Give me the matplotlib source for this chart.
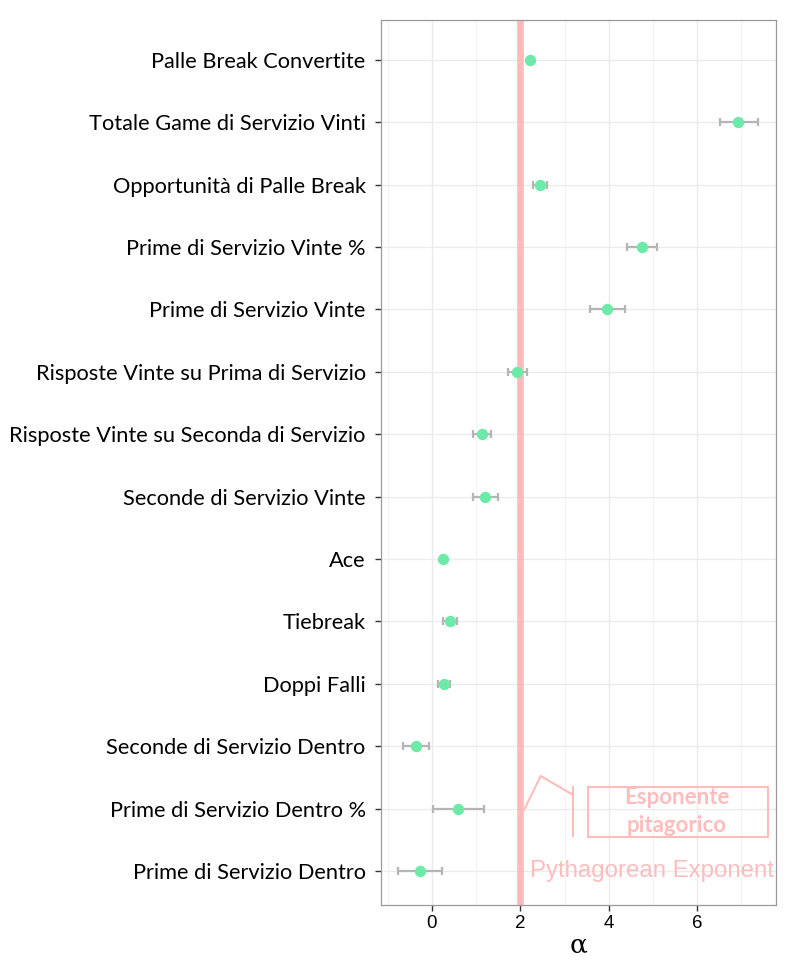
import matplotlib
matplotlib.use("Agg")
import matplotlib.pyplot as plt
from matplotlib.lines import Line2D
from matplotlib.patches import Rectangle

categories = [
    "Palle Break Convertite",
    "Totale Game di Servizio Vinti",
    "Opportunità di Palle Break",
    "Prime di Servizio Vinte %",
    "Prime di Servizio Vinte",
    "Risposte Vinte su Prima di Servizio",
    "Risposte Vinte su Seconda di Servizio",
    "Seconde di Servizio Vinte",
    "Ace",
    "Tiebreak",
    "Doppi Falli",
    "Seconde di Servizio Dentro",
    "Prime di Servizio Dentro %",
    "Prime di Servizio Dentro",
]
alpha_est = [2.21, 6.93, 2.44, 4.76, 3.97, 1.93, 1.14, 1.20, 0.25, 0.41, 0.27, -0.36, 0.60, -0.26]
ci_low = [2.17, 6.52, 2.29, 4.41, 3.57, 1.73, 0.93, 0.92, 0.22, 0.26, 0.14, -0.66, 0.03, -0.76]
ci_high = [2.25, 7.37, 2.60, 5.10, 4.37, 2.14, 1.34, 1.49, 0.28, 0.57, 0.40, -0.06, 1.18, 0.23]
pythagorean_exponent = 2.0
x_ticks = [0, 2, 4, 6]

fig = plt.figure(figsize=(7.9, 9.64), dpi=100)
ax = fig.add_axes([381/790, 1-905/964, 395/790, 885/964])

n = len(categories)
ypos = list(range(n, 0, -1))

ax.set_xlim(-1.15, 7.78)
ax.set_ylim(0.455, n + 0.64)

# grid
ax.set_xticks(x_ticks)
ax.set_xticks([-1, 1, 3, 5, 7], minor=True)
ax.set_yticks(ypos)
ax.set_yticklabels(categories, fontfamily="Lato", fontsize=15.7)
ax.grid(True, which="major", color="#ebebeb", linewidth=1.0)
ax.grid(True, which="minor", axis="x", color="#f3f3f3", linewidth=0.8)
ax.set_axisbelow(True)
for s in ax.spines.values():
    s.set_color("#9a9a9a")
    s.set_linewidth(0.9)
ax.tick_params(axis="both", which="major", length=4, color="#333333", width=1)
ax.tick_params(axis="x", which="minor", length=0)
ax.tick_params(axis="y", pad=7)
for lab in ax.get_xticklabels():
    lab.set_fontfamily("Liberation Sans")
    lab.set_fontsize(13.5)
ax.set_xlabel("α", fontfamily="DejaVu Serif", fontsize=19, labelpad=0)

ax.axvline(pythagorean_exponent, color="#ffb0b0", alpha=0.85, linewidth=4.8, zorder=1)

xerr = [[a - l for a, l in zip(alpha_est, ci_low)], [h - a for a, h in zip(alpha_est, ci_high)]]
ax.errorbar(alpha_est, ypos, xerr=xerr, fmt="none", ecolor="#b5b5b5",
            elinewidth=1.6, capsize=3.2, capthick=1.6, zorder=2)
ax.plot(alpha_est, ypos, "o", color="#6eeaa8", markersize=8.2, markeredgewidth=0, zorder=3)

pink = "#ffbcbc"
ax.text(2.22, ypos[-1], "Pythagorean Exponent", color=pink, fontsize=17.3,
        fontfamily="Liberation Sans", ha="left", va="center", zorder=4)

def fx(px):
    return (px - 381) / 395

def fy(py):
    return (905 - py) / 885

ax.add_line(Line2D([fx(524), fx(540.7), fx(573.3)], [fy(810), fy(776), fy(795)],
                   transform=ax.transAxes, color=pink, linewidth=1.5, zorder=4))
ax.add_line(Line2D([fx(573.3), fx(573.3)], [fy(786.7), fy(836)],
                   transform=ax.transAxes, color=pink, linewidth=1.5, zorder=4))
ax.add_patch(Rectangle((fx(588.3), fy(836.7)), fx(767.7) - fx(588.3), fy(786.7) - fy(836.7),
                       transform=ax.transAxes, fill=False, edgecolor=pink, linewidth=1.5, zorder=4))
ax.text(fx(677), fy(797), "Esponente", transform=ax.transAxes, color=pink, fontsize=16,
        fontweight="bold", fontfamily="Lato", ha="center", va="center", zorder=4)
ax.text(fx(677), fy(825), "pitagorico", transform=ax.transAxes, color=pink, fontsize=16,
        fontweight="bold", fontfamily="Lato", ha="center", va="center", zorder=4)

fig.savefig("out.png", dpi=100)
